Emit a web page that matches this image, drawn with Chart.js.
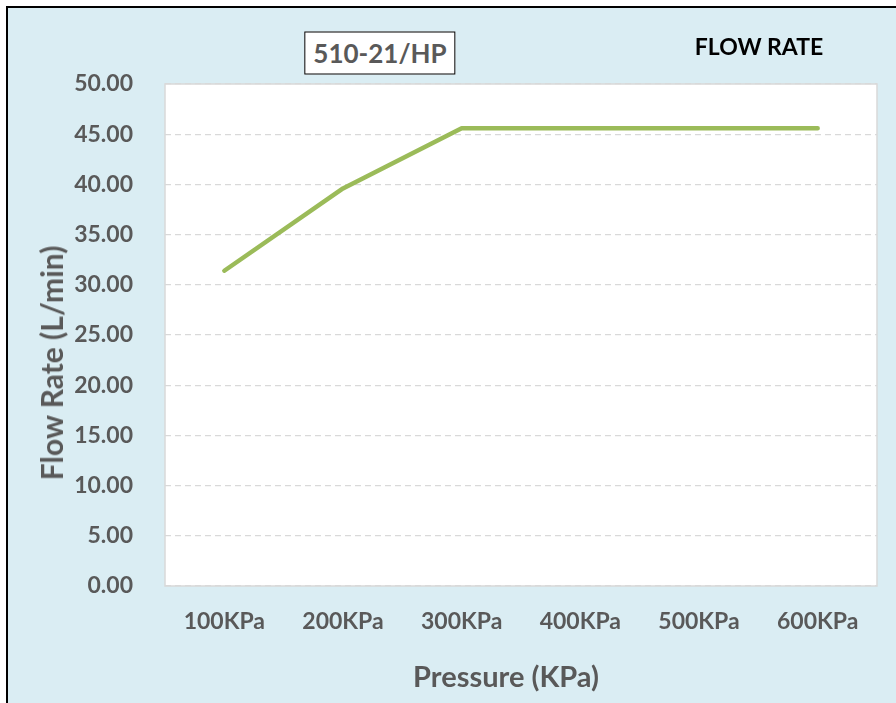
<!DOCTYPE html>
<html>
<head>
<meta charset="utf-8">
<title>Flow Rate</title>
<script src="https://cdn.jsdelivr.net/npm/chart.js@4.4.1/dist/chart.umd.min.js"></script>
<style>
    html, body { margin: 0; padding: 0; background: #fff; overflow: hidden; }
    #frame {
        position: absolute; left: 6px; top: 6px; width: 900px; height: 710px;
        border-left: 2px solid #000; border-top: 2px solid #000;
        background: #DAEDF3;
    }
    #wrap { position: absolute; left: 0; top: 0; width: 896px; height: 703px; }
    .lbl {
        position: absolute; font-family: Lato, "Open Sans", sans-serif; font-weight: bold;
        color: #595959; white-space: nowrap; transform: translate(-50%, -50%);
    }
    #model {
        left: 380px; top: 53px; font-size: 26px; background: #fff;
        border: 1.5px solid #000; padding: 4px 8px 5px 8px; color: #595959;
    }
    #heading { left: 759px; top: 46px; font-size: 23px; color: #000; }
    #xTitle { left: 506px; top: 675px; font-size: 29px; }
    #yTitle { left: 51px; top: 363px; font-size: 30px; transform: translate(-50%, -50%) rotate(-90deg); }
</style>
</head>
<body>
<div id="frame"></div>
<div id="wrap"><canvas id="flowChart" width="896" height="703"></canvas></div>
<div class="lbl" id="model">510-21/HP</div>
<div class="lbl" id="heading">FLOW RATE</div>
<div class="lbl" id="xTitle">Pressure (KPa)</div>
<div class="lbl" id="yTitle">Flow Rate (L/min)</div>

<script>
const pressures = ['100KPa', '200KPa', '300KPa', '400KPa', '500KPa', '600KPa'];
const flowRates = [31.4, 39.6, 45.6, 45.6, 45.6, 45.6];
const yTicks = [0, 5, 10, 15, 20, 25, 30, 35, 40, 45, 50];

const textGray = '#595959';
const tickFont = {family: 'Lato, "Open Sans", sans-serif', size: 23, weight: 'bold'};

// white plot background with a thin grey border
const plotBox = {
    id: 'plotBox',
    beforeDraw(chart) {
        const {ctx, chartArea: a} = chart;
        ctx.save();
        ctx.fillStyle = '#fff';
        ctx.fillRect(a.left, a.top, a.width, a.height);
        ctx.strokeStyle = '#D9D9D9';
        ctx.lineWidth = 1.5;
        ctx.strokeRect(a.left, a.top, a.width, a.height);
        ctx.restore();
    }
};

new Chart(document.getElementById('flowChart'), {
    type: 'line',
    data: {
        labels: pressures,
        datasets: [{
            label: 'Flow Rate',
            data: flowRates,
            borderColor: '#9BBB59',
            borderWidth: 4.5,
            borderCapStyle: 'round',
            borderJoinStyle: 'round',
            pointRadius: 0,
            fill: false,
            tension: 0
        }]
    },
    options: {
        responsive: false,
        animation: false,
        layout: {padding: {left: 0, top: 84, right: 19, bottom: 0}},
        plugins: {legend: {display: false}, tooltip: {enabled: false}},
        scales: {
            x: {
                offset: true,
                grid: {display: false, drawTicks: false},
                border: {display: false},
                ticks: {color: textGray, font: tickFont, padding: 22, maxRotation: 0},
                afterFit: s => { s.height = 117; }
            },
            y: {
                min: 0,
                max: 50,
                afterBuildTicks: s => { s.ticks = yTicks.map(v => ({value: v})); },
                grid: {color: '#D9D9D9', lineWidth: 1.2, drawTicks: false},
                border: {display: false, dash: [6, 4]},
                ticks: {
                    color: textGray, font: tickFont, padding: 32,
                    callback: v => Number(v).toFixed(2)
                },
                afterFit: s => { s.width = 165; }
            }
        }
    },
    plugins: [plotBox]
});
</script>
</body>
</html>
